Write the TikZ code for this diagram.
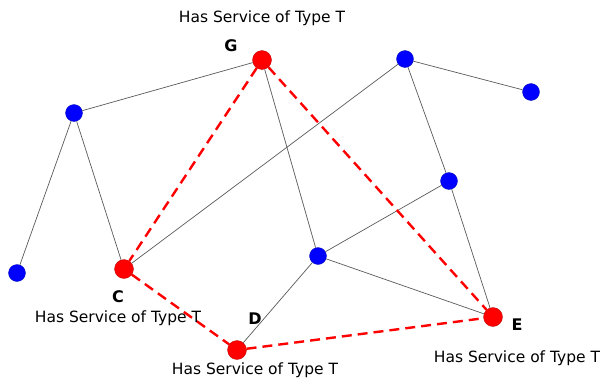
\documentclass[tikz,border=0pt]{standalone}
\usepackage{fontspec}
\setmainfont{DejaVu Sans}
\begin{document}
\begin{tikzpicture}[x=1pt,y=-1pt,
  bnode/.style={circle,fill=blue,draw=blue!70!black,line width=0.3pt,minimum size=17pt,inner sep=0pt},
  rnode/.style={circle,fill=red,draw=red!70!black,line width=0.3pt,minimum size=19pt,inner sep=0pt},
  edge/.style={draw=gray!70!black,line width=0.7pt},
  redge/.style={draw=red,line width=2.4pt,dash pattern=on 10pt off 6pt},
  lab/.style={font=\fontsize{15.5}{17}\selectfont,inner sep=0pt},
  letter/.style={font=\fontsize{16}{18}\selectfont\bfseries,inner sep=0pt}]
\useasboundingbox (0,0) rectangle (605,383);
\node[rnode] (G) at (262,60) {};
\node[rnode] (C) at (124,269) {};
\node[rnode] (D) at (237,350) {};
\node[rnode] (E) at (493,317) {};
\node[bnode] (B1) at (74,113) {};
\node[bnode] (B2) at (17,273) {};
\node[bnode] (B3) at (318,256) {};
\node[bnode] (B4) at (449,181) {};
\node[bnode] (B5) at (405,59) {};
\node[bnode] (B6) at (531,92) {};
\draw[edge] (B1) -- (B2);
\draw[edge] (B1) -- (C);
\draw[edge] (B1) -- (G);
\draw[edge] (C) -- (B5);
\draw[edge] (G) -- (B3);
\draw[edge] (B5) -- (B6);
\draw[edge] (B5) -- (B4);
\draw[edge] (B4) -- (E);
\draw[edge] (B4) -- (B3);
\draw[edge] (B3) -- (E);
\draw[edge] (B3) -- (D);
\draw[redge] (G) -- (C);
\draw[redge] (G) -- (E);
\draw[redge] (C) -- (D);
\draw[redge] (D) -- (E);
\node[lab] (lG) at (262,18) {Has Service of Type T};
\node[letter] (tG) at (231,46) {G};
\node[letter] (tC) at (118,297) {C};
\node[lab] (lC) at (118,318) {Has Service of Type T};
\node[letter] (tD) at (255,319) {D};
\node[lab] (lD) at (255,370) {Has Service of Type T};
\node[letter] (tE) at (517,325) {E};
\node[lab] (lE) at (517,358) {Has Service of Type T};
\end{tikzpicture}
\end{document}
